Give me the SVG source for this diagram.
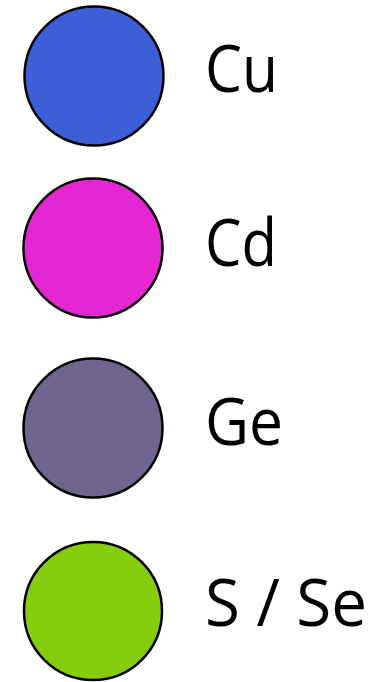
<svg xmlns="http://www.w3.org/2000/svg" width="380" height="682" viewBox="0 0 380 682">
<style>
.dot{stroke:#000;stroke-width:2.5}
.lbl{font-family:"Open Sans","Liberation Sans",sans-serif;font-size:65px;fill:#000}
</style>
<rect width="380" height="682" fill="#fff"/>
<g id="cu"><circle class="dot" cx="94" cy="76" r="69.5" fill="#3c5ed7"/><text class="lbl" x="205" y="92" textLength="73" lengthAdjust="spacingAndGlyphs">Cu</text></g>
<g id="cd"><circle class="dot" cx="93" cy="248" r="69.5" fill="#e626d2"/><text class="lbl" x="205" y="266" textLength="72" lengthAdjust="spacingAndGlyphs">Cd</text></g>
<g id="ge"><circle class="dot" cx="93" cy="428" r="69.5" fill="#6f658f"/><text class="lbl" x="205" y="445" textLength="78" lengthAdjust="spacingAndGlyphs">Ge</text></g>
<g id="sse"><circle class="dot" cx="93" cy="611" r="69" fill="#86cd0e"/><text class="lbl" x="205" y="626" textLength="162" lengthAdjust="spacingAndGlyphs">S / Se</text></g>
<g id="connectors"/>
</svg>
